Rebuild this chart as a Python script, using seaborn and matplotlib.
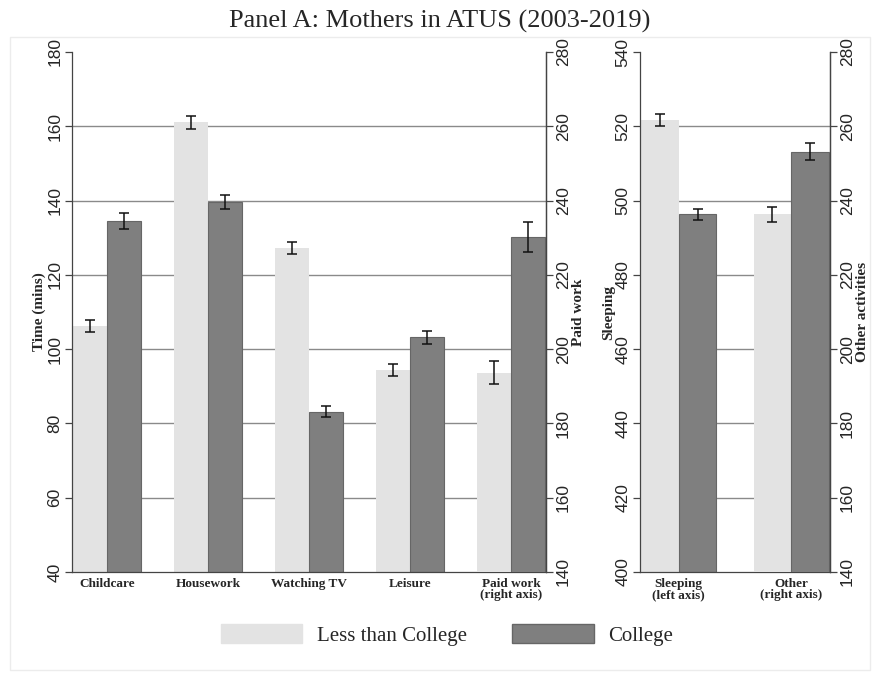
import pandas as pd
import seaborn as sns
import matplotlib.pyplot as plt
from matplotlib.patches import Patch, Rectangle

groups = ["Less than College", "College"]

main_cats = ["Childcare", "Housework", "Watching TV", "Leisure", "Paid work"]
main_labels = ["Childcare", "Housework", "Watching TV", "Leisure", "Paid work\n(right axis)"]
less_main = [106.2, 161.1, 127.2, 94.5, 193.7]
less_main_err = [1.6, 1.8, 1.7, 1.6, 3.2]
coll_main = [134.5, 139.6, 83.2, 103.2, 230.1]
coll_main_err = [2.2, 2.0, 1.5, 1.8, 4.0]

side_cats = ["Sleeping", "Other"]
side_labels = ["Sleeping\n(left axis)", "Other\n(right axis)"]
less_side = [521.7, 236.3]
less_side_err = [1.6, 2.0]
coll_side = [496.3, 253.2]
coll_side_err = [1.5, 2.3]

main_ticks_left = list(range(40, 181, 20))
main_ticks_right = list(range(140, 281, 20))
side_ticks_left = list(range(400, 541, 20))
side_ticks_right = list(range(140, 281, 20))

colors = {"Less than College": "#e3e3e3", "College": "#7f7f7f"}
SERIF = "Liberation Serif"


def make_df(cats, less, less_err, coll, coll_err):
    rows = []
    for c, v, e in zip(cats, less, less_err):
        rows.append({"activity": c, "group": groups[0], "mins": v, "err": e})
    for c, v, e in zip(cats, coll, coll_err):
        rows.append({"activity": c, "group": groups[1], "mins": v, "err": e})
    return pd.DataFrame(rows)


def draw(ax, df, order):
    sns.barplot(data=df, x="activity", y="mins", hue="group", order=order,
                hue_order=groups, palette=colors, width=0.67, saturation=1,
                errorbar=None, legend=False, ax=ax, linewidth=0)
    for cont, g in zip(ax.containers, groups):
        sub = df[df["group"] == g]
        for bar in cont:
            h = bar.get_height()
            e = sub.loc[(sub["mins"] - h).abs().idxmin(), "err"]
            xc = bar.get_x() + bar.get_width() / 2
            ax.errorbar(xc, h, yerr=e, fmt="none", ecolor="#111111",
                        elinewidth=1.1, capsize=3.5, capthick=1.1, zorder=5)
            if g == "College":
                bar.set_edgecolor("#666666")
                bar.set_linewidth(0.8)


def style_axis(ax, ticks):
    ax.set_ylim(ticks[0], ticks[-1])
    ax.set_yticks(ticks)
    ax.tick_params(axis="y", labelrotation=90, labelsize=12.5, length=5,
                   width=0.9, color="#444444", pad=2)
    for lab in ax.get_yticklabels():
        lab.set_va("center")
    ax.spines["top"].set_visible(False)
    for s in ["left", "right", "bottom"]:
        ax.spines[s].set_color("#444444")
        ax.spines[s].set_linewidth(0.9)


df_main = make_df(main_cats, less_main, less_main_err, coll_main, coll_main_err)
df_side = make_df(side_cats, less_side, less_side_err, coll_side, coll_side_err)

sns.set_style("white")
plt.rcParams["font.family"] = ["Liberation Sans", "DejaVu Sans"]

fig = plt.figure(figsize=(8.8, 6.75), dpi=100)
bottom = (675 - 572) / 675
height = 520 / 675
ax = fig.add_axes([72 / 880, bottom, 474 / 880, height])
ax_r = ax.twinx()
ax_s = fig.add_axes([640 / 880, bottom, 190 / 880, height])
ax_sr = ax_s.twinx()

# left panel: four activities on left axis, paid work on right axis
draw(ax, df_main[df_main["activity"] != "Paid work"], main_cats)
draw(ax_r, df_main[df_main["activity"] == "Paid work"], main_cats)
draw(ax_s, df_side[df_side["activity"] == "Sleeping"], side_cats)
draw(ax_sr, df_side[df_side["activity"] == "Other"], side_cats)

style_axis(ax, main_ticks_left)
style_axis(ax_r, main_ticks_right)
style_axis(ax_s, side_ticks_left)
style_axis(ax_sr, side_ticks_right)

for a, labels, n in [(ax, main_labels, 5), (ax_s, side_labels, 2)]:
    a.set_xlim(-0.345, n - 1 + 0.345)
    a.set_xticks(range(n))
    a.set_xticklabels(labels, family=SERIF, fontweight="bold", fontsize=9.5,
                      linespacing=0.95)
    a.tick_params(axis="x", length=0, pad=4)
    a.set_xlabel("")
    a.yaxis.grid(True, color="#8a8a8a", linewidth=1)
    a.set_axisbelow(True)
    gl = a.get_ygridlines()
    gl[0].set_visible(False)
    gl[-1].set_visible(False)

for a in [ax_r, ax_sr]:
    a.set_xlim(a.get_xlim())
    a.grid(False)
    a.spines["left"].set_visible(False)
    a.spines["bottom"].set_visible(False)

lab_kw = dict(family=SERIF, fontweight="bold", fontsize=11)
ax.set_ylabel("Time (mins)", labelpad=1, **lab_kw)
ax_r.set_ylabel("Paid work", labelpad=1, rotation=90, **lab_kw)
ax_s.set_ylabel("Sleeping", labelpad=0, **lab_kw)
ax_sr.set_ylabel("Other activities", labelpad=1, rotation=90, **lab_kw)

fig.text(0.5, 1 - 21 / 675, "Panel A: Mothers in ATUS (2003-2019)",
         family=SERIF, fontsize=19, ha="center", va="center")

handles = [Patch(facecolor=colors[groups[0]], edgecolor=colors[groups[0]]),
           Patch(facecolor=colors[groups[1]], edgecolor="#666666")]
fig.legend(handles, groups, loc="center", bbox_to_anchor=(447 / 880, 1 - 635 / 675),
           ncol=2, frameon=False, prop={"family": SERIF, "size": 15},
           handlelength=3.9, handleheight=1.05, handletextpad=0.7,
           columnspacing=2.2)

fig.patches.append(Rectangle((10 / 880, 5 / 675), 860 / 880, (675 - 42) / 675,
                             transform=fig.transFigure, fill=False,
                             edgecolor="#ececec", linewidth=1))

fig.savefig("out.png", dpi=100)
